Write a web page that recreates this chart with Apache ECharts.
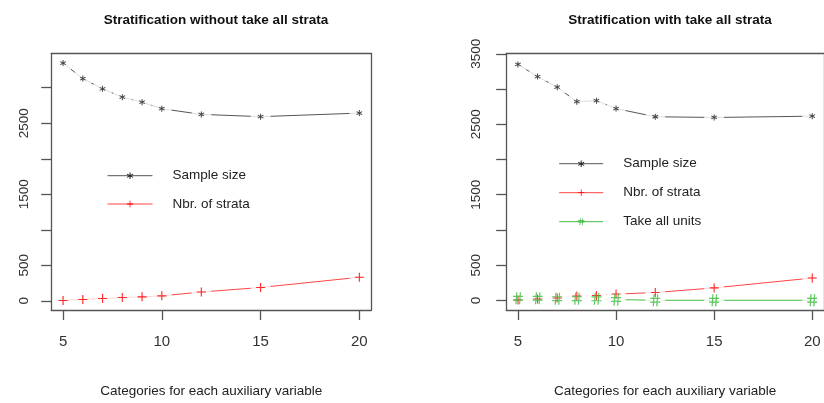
<!DOCTYPE html>
<html>
<head>
<meta charset="utf-8">
<title>Stratification</title>
<script src="https://cdn.jsdelivr.net/npm/echarts@6/dist/echarts.min.js"></script>
<style>
  html, body { margin: 0; padding: 0; background: #fff; }
  #chart { width: 824px; height: 403px; }
</style>
</head>
<body>
<div id="chart"></div>
<script>
// categories per auxiliary variable (x)
var xVals = [5, 6, 7, 8, 9, 10, 12, 15, 20];
var xTicks = [5, 10, 15, 20];

// left panel: without take all strata
var sampleLeft = [3348, 3129, 2985, 2867, 2797, 2705, 2625, 2593, 2643];
var strataLeft = [5, 20, 33, 47, 56, 70, 124, 188, 332];
var yTicksLeft = [0, 500, 1000, 1500, 2000, 2500, 3000];
var yLabelsLeft = [0, 500, 1500, 2500];

// right panel: with take all strata
var sampleRight = [3350, 3178, 3027, 2821, 2835, 2723, 2607, 2597, 2615];
var strataRight = [6, 20, 35, 62, 70, 90, 112, 178, 318];
var takeAllRight = [30, 30, 25, 25, 22, 12, 2, 2, 2];
var yTicksRight = [0, 500, 1000, 1500, 2000, 2500, 3000, 3500];
var yLabelsRight = [0, 500, 1500, 2500, 3500];

var FONT = 'Liberation Sans, Arial, sans-serif';
var AXIS_COLOR = '#555';

// glyphs like R's pch "*", "+", "#"
var STAR = 'path://M4.25,0h1.5v10h-1.5z M0.295,3.15L1.045,1.85L9.705,6.85L8.955,8.15z M8.955,1.85L9.705,3.15L1.045,8.15L0.295,6.85z';
var PLUS = 'path://M4.4,0h1.2v4.4h4.4v1.2h-4.4v4.4h-1.2v-4.4h-4.4v-1.2h4.4z';
var HASH = 'path://M3.2,0h1.2L3.6,12h-1.2z M6.8,0h1.2L7.2,12h-1.2z M0,3.5h10v1.2h-10z M0,7.3h10v1.2h-10z';

function pairs(ys) {
  return xVals.map(function (x, i) { return [x, ys[i]]; });
}

var myChart = echarts.init(document.getElementById('chart'), null, { renderer: 'canvas' });

function panelAxes(gi, yMin, yMax, yTicks, yLabels, labelMargin) {
  var line = { show: true, onZero: false, lineStyle: { color: AXIS_COLOR, width: 1.3 } };
  var xs = [{
    type: 'value', gridIndex: gi, min: 4.4, max: 20.6, z: 10,
    axisLine: line,
    axisTick: { show: true, length: 10, customValues: xTicks, lineStyle: { color: AXIS_COLOR, width: 1.3 } },
    axisLabel: { customValues: xTicks, margin: 24, fontSize: 15, color: '#333', fontFamily: FONT },
    splitLine: { show: false },
    name: 'Categories for each auxiliary variable',
    nameLocation: 'middle', nameGap: 74,
    nameTextStyle: { fontSize: 13.5, color: '#222', fontFamily: FONT }
  }, {
    type: 'value', gridIndex: gi, position: 'top', min: 4.4, max: 20.6, z: 10,
    axisLine: line, axisTick: { show: false }, axisLabel: { show: false }, splitLine: { show: false }
  }];
  var ys = [{
    type: 'value', gridIndex: gi, min: yMin, max: yMax, z: 10,
    axisLine: line,
    axisTick: { show: true, length: 10, customValues: yTicks, lineStyle: { color: AXIS_COLOR, width: 1.3 } },
    axisLabel: {
      customValues: yLabels, rotate: 90, margin: labelMargin, fontSize: 13.5, color: '#333', fontFamily: FONT,
      formatter: function (v) { return String(v); }
    },
    splitLine: { show: false }
  }, {
    type: 'value', gridIndex: gi, position: 'right', min: yMin, max: yMax, z: 10,
    axisLine: line, axisTick: { show: false }, axisLabel: { show: false }, splitLine: { show: false }
  }];
  return { x: xs, y: ys };
}

// type="b": line, white gap round each point, then the glyph on top
function typeB(name, ys, axisIdx, color, lineColor, glyph, size) {
  var common = { xAxisIndex: axisIdx, yAxisIndex: axisIdx, silent: true, emphasis: { disabled: true } };
  return [
    Object.assign({
      name: name, type: 'line', z: 1, data: pairs(ys),
      symbol: glyph, symbolSize: size, showSymbol: true, showAllSymbol: true,
      itemStyle: { color: color }, lineStyle: { color: lineColor, width: 1 }
    }, common),
    Object.assign({
      type: 'scatter', z: 2, data: pairs(ys),
      symbol: 'circle', symbolSize: 20, itemStyle: { color: '#fff' }
    }, common),
    Object.assign({
      type: 'scatter', z: 3, data: pairs(ys),
      symbol: glyph, symbolSize: size, itemStyle: { color: color }
    }, common)
  ];
}

var left = panelAxes(0, -129, 3482, yTicksLeft, yLabelsLeft, 20);
var right = panelAxes(1, -136, 3505, yTicksRight, yLabelsRight, 23);

var series = [].concat(
  typeB('Sample size', sampleLeft, 0, '#222', '#555', STAR, 6),
  typeB('Nbr. of strata', strataLeft, 0, '#ff0000', '#ff4444', PLUS, 9),
  typeB('Sample size', sampleRight, 2, '#222', '#555', STAR, 6),
  typeB('Nbr. of strata', strataRight, 2, '#ff0000', '#ff4444', PLUS, 9),
  typeB('Take all units', takeAllRight, 2, '#3dba3d', '#44bb44', HASH, [10, 12])
);

var legendText = { fontSize: 13.5, color: '#222', fontFamily: FONT, padding: [0, 0, 0, 15] };

myChart.setOption({
  animation: false,
  backgroundColor: '#fff',
  title: [{
    text: 'Stratification without take all strata',
    left: 211, top: 8, textAlign: 'center',
    textStyle: { fontSize: 13.5, fontWeight: 'bold', color: '#111', fontFamily: FONT }
  }, {
    text: 'Stratification with take all strata',
    left: 665, top: 8, textAlign: 'center',
    textStyle: { fontSize: 13.5, fontWeight: 'bold', color: '#111', fontFamily: FONT }
  }],
  legend: [{
    data: ['Sample size', 'Nbr. of strata'],
    orient: 'vertical', left: 107, top: 168.7, padding: 0,
    itemWidth: 45, itemHeight: 8, itemGap: 14.3,
    lineStyle: { width: 1 },
    textStyle: legendText, selectedMode: false
  }, {
    data: ['Sample size', 'Nbr. of strata', 'Take all units'],
    orient: 'vertical', left: 558.7, top: 156.7, padding: 0,
    itemWidth: 44, itemHeight: 8, itemGap: 15,
    lineStyle: { width: 1 },
    textStyle: legendText, selectedMode: false
  }],
  grid: [
    { left: 51.2, top: 53.5, width: 320, height: 259.5, containLabel: false },
    { left: 506.2, top: 53.5, width: 318.6, height: 259.5, containLabel: false }
  ],
  xAxis: left.x.concat(right.x),
  yAxis: left.y.concat(right.y),
  series: series
});
</script>
</body>
</html>
